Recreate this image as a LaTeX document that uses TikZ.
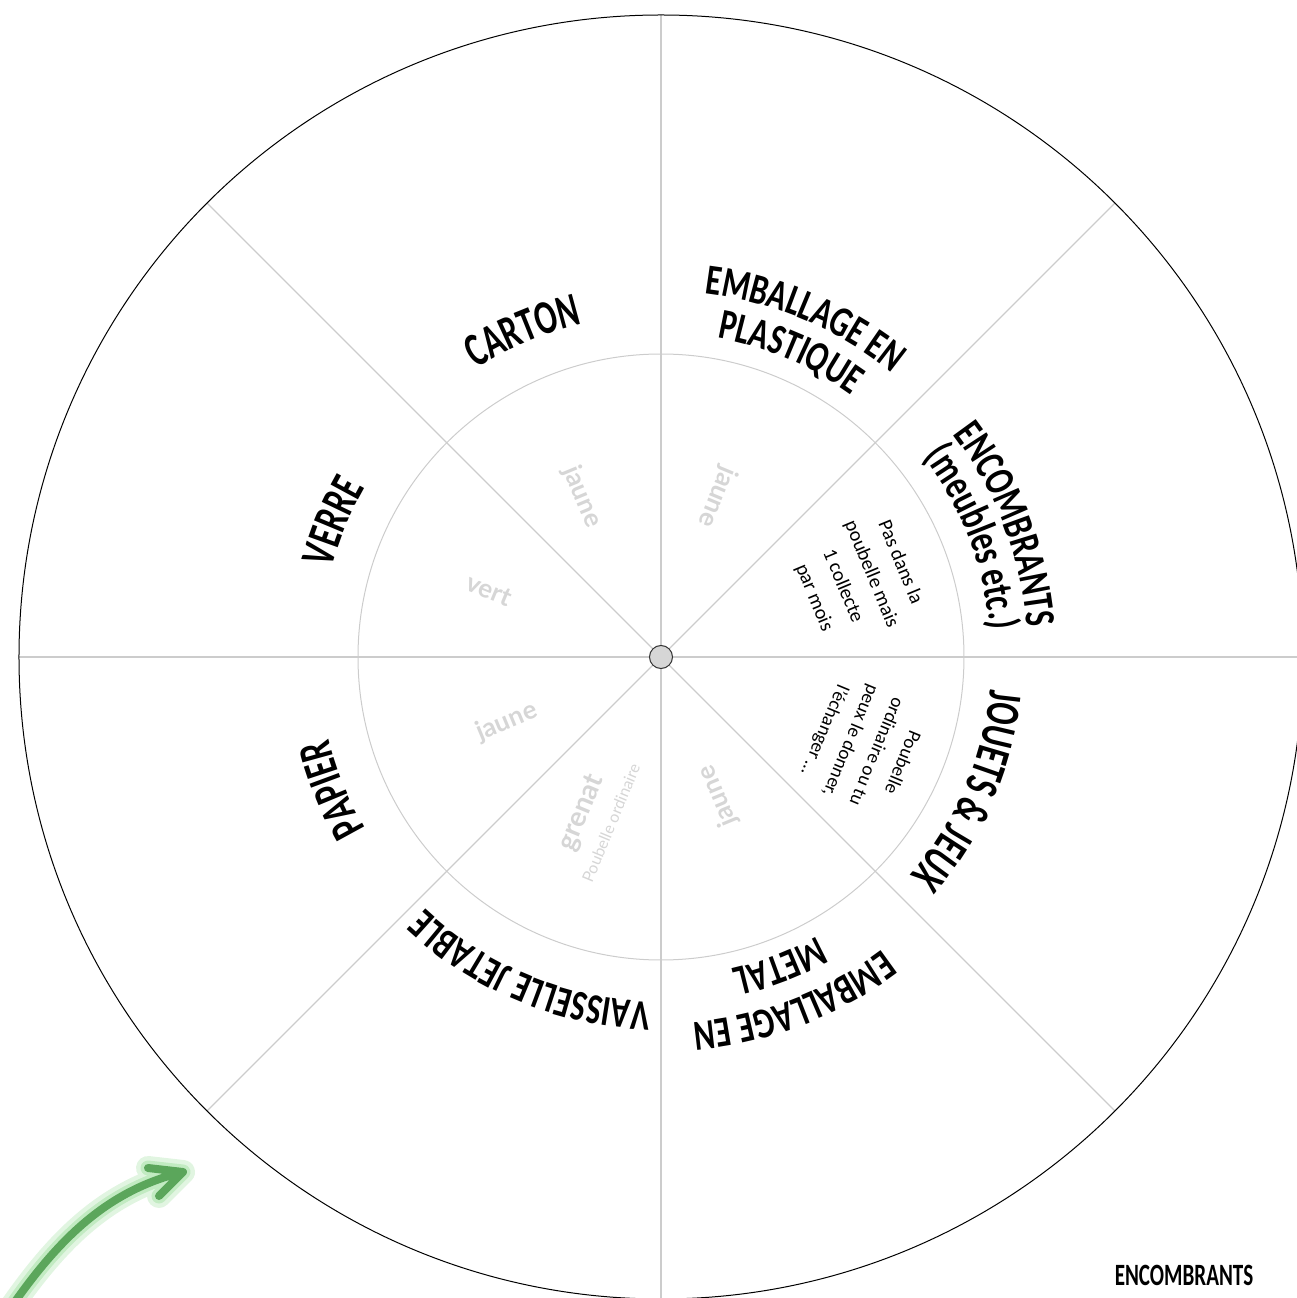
\documentclass[tikz,border=0pt]{standalone}
\usepackage{fontspec}
\usetikzlibrary{decorations.text}

\newfontfamily\headfont[FakeStretch=0.68]{Carlito}
\newfontfamily\headfontwide[FakeStretch=0.74]{Carlito}
\newfontfamily\notefont{Carlito}
\newfontfamily\tagfont{Lato}
\newcommand{\labelbig}{\headfont\bfseries\fontsize{48}{52}\selectfont}
\newcommand{\labelmid}{\headfontwide\bfseries\fontsize{43}{47}\selectfont}
\newcommand{\labelsmall}{\headfont\bfseries\fontsize{31}{34}\selectfont}

\definecolor{spokegray}{HTML}{CCCCCC}
\definecolor{taggray}{HTML}{D6D6D6}
\definecolor{arrowgreen}{HTML}{5BA65B}
\definecolor{glowgreen}{HTML}{B5E6B5}

\tikzset{
  spoke/.style={draw=spokegray, line width=1.2pt},
  ring/.style={draw=spokegray, line width=1pt},
  tag/.style={text=taggray, inner sep=0pt, font=\tagfont\bfseries\fontsize{26}{30}\selectfont},
  note/.style={align=center, inner sep=0pt, font=\notefont\fontsize{20}{31}\selectfont}
}

\begin{document}
\begin{tikzpicture}[x=1pt, y=1pt]
        \useasboundingbox (-661,-641) rectangle (636,657);
        \clip (-661,-641) rectangle (636,657);

        % wheel
        \foreach \a in {0,45,...,315}
            \draw [spoke] (0,0) -- (\a:642);
        \draw [ring] (0,0) circle [radius = 303];
        \draw [line width=1pt] (0,0) circle [radius = 642];
        \node (hub) [circle, draw=black!80, fill=taggray, line width=1pt, minimum size=23pt, inner sep=0pt] at (0,0) {};

        % outer labels, read clockwise
        \path [decorate, decoration={text along path, text align=center, text={|\labelbig|CARTON}}]
            (158:342) arc [start angle=158, end angle=68, radius=342];
        \path [decorate, decoration={text along path, text align=center, text={|\labelmid|EMBALLAGE EN}}]
            (112:366) arc [start angle=112, end angle=22, radius=366];
        \path [decorate, decoration={text along path, text align=center, text={|\labelmid|PLASTIQUE}}]
            (112:324) arc [start angle=112, end angle=22, radius=324];
        \path [decorate, decoration={text along path, text align=center, text={|\labelmid|ENCOMBRANTS}}]
            (66:367) arc [start angle=66, end angle=-24, radius=367];
        \path [decorate, decoration={text along path, text align=center, text={|\labelmid|(meubles etc.)}}]
            (66:330) arc [start angle=66, end angle=-24, radius=330];
        \path [decorate, decoration={text along path, text align=center, text={|\labelbig|JOUETS {\&} JEUX}}]
            (21.5:331) arc [start angle=21.5, end angle=-68.5, radius=331];
        \path [decorate, decoration={text along path, text align=center, text={|\labelmid|EMBALLAGE EN}}]
            (-24:367) arc [start angle=-24, end angle=-114, radius=367];
        \path [decorate, decoration={text along path, text align=center, text={|\labelmid|METAL}}]
            (-24:320) arc [start angle=-24, end angle=-114, radius=320];
        \path [decorate, decoration={text along path, text align=center, text={|\labelmid|VAISSELLE JETABLE}}]
            (292.5:345) arc [start angle=292.5, end angle=202.5, radius=345];
        \path [decorate, decoration={text along path, text align=center, text={|\labelbig|PAPIER}}]
            (247:342) arc [start angle=247, end angle=157, radius=342];
        \path [decorate, decoration={text along path, text align=center, text={|\labelbig|VERRE}}]
            (202.5:341) arc [start angle=202.5, end angle=112.5, radius=341];

        % notes
        \node (collecte) [note, rotate=-67.5] at (196,77) {Pas dans la\\poubelle mais\\1 collecte\\par mois};
        \node (echange) [note, rotate=-112.5, font=\notefont\fontsize{19}{28}\selectfont] at (202,-89) {Poubelle\\ordinaire ou tu\\peux le donner,\\l’échanger …};

        % bin colours
        \node (jauneA) [tag, rotate=247.5] at (56,160) {jaune};
        \node (jauneB) [tag, rotate=-67.5] at (-79,160) {jaune};
        \node (vert) [tag, rotate=-22.5] at (-172,67) {vert};
        \node (jauneC) [tag, rotate=22.5] at (-154,-65) {jaune};
        \node (grenat) [tag, rotate=67.5, font=\tagfont\bfseries\fontsize{28}{30}\selectfont] at (-79,-156) {grenat};
        \node (ordinaire) [tag, rotate=67.5, font=\tagfont\fontsize{16}{18}\selectfont] at (-50,-166) {Poubelle ordinaire};
        \node (jauneD) [tag, rotate=112.5] at (57,-139) {jaune};

        \node (legend) at (523,-618) {\labelsmall ENCOMBRANTS};

        % green arrow
        \coordinate (tail) at (-662,-668);
        \coordinate (tip) at (-478,-515);
        \coordinate (wingA) at (-513,-511);
        \coordinate (wingB) at (-502,-539);
        \draw [glowgreen, opacity=0.4, line width=24pt, line cap=round, line join=round]
            (tail) .. controls (-610,-590) and (-560,-535) .. (tip) (wingA) -- (tip) -- (wingB);
        \draw [glowgreen, opacity=0.7, line width=15pt, line cap=round, line join=round]
            (tail) .. controls (-610,-590) and (-560,-535) .. (tip) (wingA) -- (tip) -- (wingB);
        \draw [arrowgreen, line width=8pt, line cap=round, line join=round]
            (tail) .. controls (-610,-590) and (-560,-535) .. (tip) (wingA) -- (tip) -- (wingB);
    \end{tikzpicture}
\end{document}
